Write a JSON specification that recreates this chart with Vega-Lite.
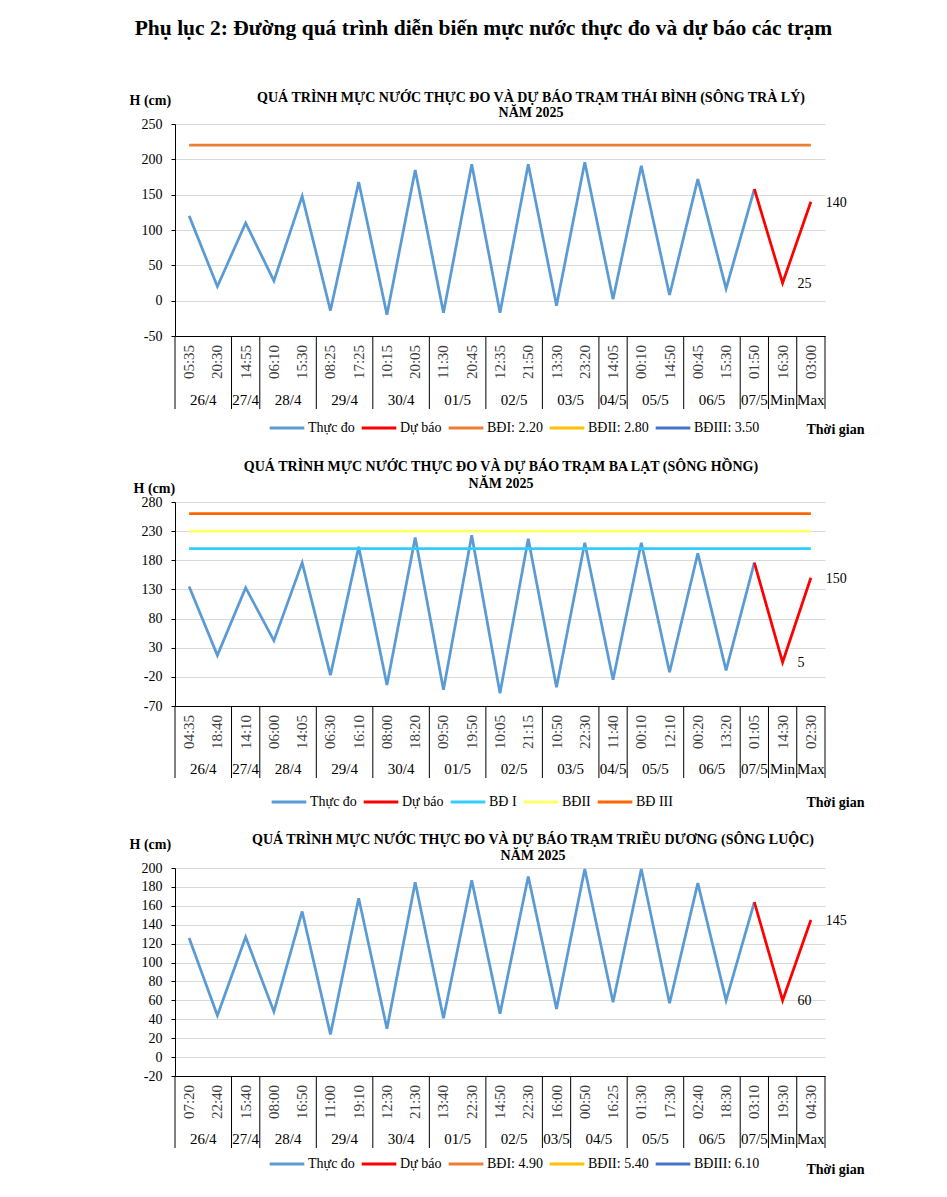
{
  "$schema": "https://vega.github.io/schema/vega-lite/v6.json",
  "background": "white",
  "padding": {"left": 129, "top": 17, "right": 5, "bottom": 5},
  "title": {"text": "Phụ lục 2: Đường quá trình diễn biến mực nước thực đo và dự báo các trạm", "font": "Liberation Serif", "fontSize": 21.5, "fontWeight": "bold", "color": "#000", "anchor": "middle", "offset": 52, "dx": -13},
  "config": {"view": {"stroke": null}, "axis": {"labelOverlap": false}, "axisY": {"labelOverlap": false, "tickCount": 12}},
  "datasets": {
    "tb": [
      {"date": "26/4", "time": "05:35", "obs": 120},
      {"date": "26/4", "time": "20:30", "obs": 20},
      {"date": "27/4", "time": "14:55", "obs": 110},
      {"date": "28/4", "time": "06:10", "obs": 28},
      {"date": "28/4", "time": "15:30", "obs": 148},
      {"date": "29/4", "time": "08:25", "obs": -14},
      {"date": "29/4", "time": "17:25", "obs": 168},
      {"date": "30/4", "time": "10:15", "obs": -20},
      {"date": "30/4", "time": "20:05", "obs": 185},
      {"date": "01/5", "time": "11:30", "obs": -17},
      {"date": "01/5", "time": "20:45", "obs": 193},
      {"date": "02/5", "time": "12:35", "obs": -17},
      {"date": "02/5", "time": "21:50", "obs": 193},
      {"date": "03/5", "time": "13:30", "obs": -7},
      {"date": "03/5", "time": "23:20", "obs": 196},
      {"date": "04/5", "time": "14:05", "obs": 2},
      {"date": "05/5", "time": "00:10", "obs": 191},
      {"date": "05/5", "time": "14:50", "obs": 8},
      {"date": "06/5", "time": "00:45", "obs": 172},
      {"date": "06/5", "time": "15:30", "obs": 17},
      {"date": "07/5", "time": "01:50", "obs": 158, "fc": 158},
      {"date": "Min", "time": "16:30", "fc": 25},
      {"date": "Max", "time": "03:00", "fc": 140}
    ],
    "tb_lv": [{"name": "BĐI: 2.20", "h": 220}],
    "bl": [
      {"date": "26/4", "time": "04:35", "obs": 135},
      {"date": "26/4", "time": "18:40", "obs": 17},
      {"date": "27/4", "time": "14:10", "obs": 133},
      {"date": "28/4", "time": "06:00", "obs": 42},
      {"date": "28/4", "time": "14:05", "obs": 176},
      {"date": "29/4", "time": "06:30", "obs": -17},
      {"date": "29/4", "time": "16:10", "obs": 203},
      {"date": "30/4", "time": "08:00", "obs": -34},
      {"date": "30/4", "time": "18:20", "obs": 219},
      {"date": "01/5", "time": "09:50", "obs": -42},
      {"date": "01/5", "time": "19:50", "obs": 223},
      {"date": "02/5", "time": "10:05", "obs": -48},
      {"date": "02/5", "time": "21:15", "obs": 217},
      {"date": "03/5", "time": "10:50", "obs": -38},
      {"date": "03/5", "time": "22:30", "obs": 210},
      {"date": "04/5", "time": "11:40", "obs": -25},
      {"date": "05/5", "time": "00:10", "obs": 210},
      {"date": "05/5", "time": "12:10", "obs": -12},
      {"date": "06/5", "time": "00:20", "obs": 192},
      {"date": "06/5", "time": "13:20", "obs": -9},
      {"date": "07/5", "time": "01:05", "obs": 176, "fc": 176},
      {"date": "Min", "time": "14:30", "fc": 5},
      {"date": "Max", "time": "02:30", "fc": 150}
    ],
    "bl_lv": [{"name": "BĐ I", "h": 200}, {"name": "BĐII", "h": 230}, {"name": "BĐ III", "h": 260}],
    "td": [
      {"date": "26/4", "time": "07:20", "obs": 126},
      {"date": "26/4", "time": "22:40", "obs": 44},
      {"date": "27/4", "time": "15:40", "obs": 127},
      {"date": "28/4", "time": "08:00", "obs": 48},
      {"date": "28/4", "time": "16:50", "obs": 154},
      {"date": "29/4", "time": "11:00", "obs": 24},
      {"date": "29/4", "time": "19:10", "obs": 168},
      {"date": "30/4", "time": "12:30", "obs": 30},
      {"date": "30/4", "time": "21:30", "obs": 185},
      {"date": "01/5", "time": "13:40", "obs": 41},
      {"date": "01/5", "time": "22:30", "obs": 187},
      {"date": "02/5", "time": "14:50", "obs": 46},
      {"date": "02/5", "time": "22:30", "obs": 191},
      {"date": "03/5", "time": "16:00", "obs": 51},
      {"date": "04/5", "time": "00:50", "obs": 199},
      {"date": "04/5", "time": "16:25", "obs": 58},
      {"date": "05/5", "time": "01:30", "obs": 199},
      {"date": "05/5", "time": "17:30", "obs": 57},
      {"date": "06/5", "time": "02:40", "obs": 184},
      {"date": "06/5", "time": "18:30", "obs": 60},
      {"date": "07/5", "time": "03:10", "obs": 164, "fc": 164},
      {"date": "Min", "time": "19:30", "fc": 60},
      {"date": "Max", "time": "04:30", "fc": 145}
    ]
  },
  "vconcat": [
    {
      "bounds": "flush",
      "spacing": 0,
      "resolve": {"scale": {"x": "independent", "y": "independent", "color": "independent"}, "legend": {"color": "independent"}},
      "vconcat": [
        {
          "width": 650, "height": 212,
          "title": {"text": ["QUÁ TRÌNH MỰC NƯỚC THỰC ĐO VÀ DỰ BÁO TRẠM THÁI BÌNH (SÔNG TRÀ LÝ)", "NĂM 2025"], "frame": "group", "anchor": "middle", "dx": 31, "offset": -27, "font": "Liberation Serif", "fontSize": 14, "fontWeight": "bold", "lineHeight": 15, "color": "#000"},
          "layer": [
            {
              "data": {"name": "tb"},
              "transform": [{"window": [{"op": "row_number", "as": "i"}]}, {"filter": "isValid(datum.obs)"}],
              "mark": {"type": "line", "strokeWidth": 2.75},
              "encoding": {
                "x": {"field": "i", "type": "ordinal", "scale": {"type": "point", "padding": 0.5},
                  "axis": {"labels": false, "ticks": false, "grid": false, "domain": true, "domainColor": "#000", "title": "Thời gian", "titleX": 631, "titleY": 93, "titleAlign": "left", "titleBaseline": "middle", "titleFont": "Liberation Serif", "titleFontSize": 14, "titleFontWeight": "bold", "titleColor": "#000"}},
                "y": {"field": "obs", "type": "quantitative", "scale": {"domain": [-50, 250], "nice": false, "zero": false},
                  "axis": {"values": [-50, 0, 50, 100, 150, 200, 250], "labelExpr": "'' + datum.value", "labelOverlap": false, "title": "H (cm)", "titleAngle": 0, "titleX": -46, "titleY": -24, "titleAlign": "left", "titleBaseline": "middle", "titleFont": "Liberation Serif", "titleFontSize": 14, "titleFontWeight": "bold", "titleColor": "#000", "labelFont": "Liberation Serif", "labelFontSize": 14, "labelColor": "#000", "tickSize": 4, "tickColor": "#000", "domainColor": "#000", "labelPadding": 9, "grid": true, "gridColor": "#D9D9D9"}},
                "color": {"datum": "Thực đo", "type": "nominal", "title": null,
                  "scale": {"domain": ["Thực đo", "Dự báo", "BĐI: 2.20", "BĐII: 2.80", "BĐIII: 3.50"], "range": ["#5B9BD5", "#FF0000", "#ED7D31", "#FFC000", "#4472C4"]},
                  "legend": {"orient": "none", "legendX": 93, "legendY": 285, "direction": "horizontal", "title": null, "symbolType": "stroke", "symbolStrokeWidth": 3, "symbolSize": 1200, "labelFont": "Liberation Serif", "labelFontSize": 14, "labelColor": "#000", "labelOffset": 2, "columnPadding": 0, "padding": 0}}
              }
            },
            {
              "data": {"name": "tb"},
              "transform": [{"window": [{"op": "row_number", "as": "i"}]}, {"filter": "isValid(datum.fc)"}],
              "mark": {"type": "line", "strokeWidth": 2.75},
              "encoding": {
                "x": {"field": "i", "type": "ordinal"},
                "y": {"field": "fc", "type": "quantitative", "axis": {"labelOverlap": false}},
                "color": {"datum": "Dự báo", "type": "nominal", "title": null}
              }
            },
            {
              "data": {"name": "tb_lv"},
              "mark": {"type": "rule", "strokeWidth": 2.75},
              "encoding": {
                "x": {"datum": 1, "type": "ordinal"},
                "x2": {"datum": 23},
                "y": {"field": "h", "type": "quantitative", "axis": {"labelOverlap": false}},
                "color": {"field": "name", "type": "nominal", "title": null}
              }
            },
            {
              "data": {"name": "tb"},
              "transform": [{"window": [{"op": "row_number", "as": "i"}]}, {"filter": "!isValid(datum.obs)"}],
              "mark": {"type": "text", "align": "left", "baseline": "middle", "dx": 15, "dy": 1, "font": "Liberation Serif", "fontSize": 14, "color": "#000"},
              "encoding": {
                "x": {"field": "i", "type": "ordinal"},
                "y": {"field": "fc", "type": "quantitative", "axis": {"labelOverlap": false}},
                "text": {"field": "fc", "type": "quantitative"}
              }
            }
          ]
        },
        {
          "width": 650, "height": 52,
          "data": {"name": "tb"},
          "transform": [
            {"window": [{"op": "row_number", "as": "i"}]},
            {"window": [{"op": "row_number", "as": "k"}, {"op": "count", "as": "n"}], "groupby": ["date"], "frame": [null, null]},
            {"joinaggregate": [{"op": "max", "field": "i", "as": "last"}]}
          ],
          "layer": [
            {"mark": {"type": "text", "angle": 270, "align": "center", "baseline": "middle", "font": "Liberation Serif", "fontSize": 15, "color": "#404040"},
             "encoding": {"x": {"field": "i", "type": "ordinal", "scale": {"type": "band", "paddingInner": 0, "paddingOuter": 0}, "axis": null}, "text": {"field": "time"}}},
            {"transform": [{"filter": "datum.k == 1"}], "mark": {"type": "rule", "color": "#000", "strokeWidth": 1},
             "encoding": {"x": {"field": "i", "type": "ordinal", "bandPosition": 0}}},
            {"transform": [{"filter": "datum.i == datum.last"}], "mark": {"type": "rule", "color": "#000", "strokeWidth": 1},
             "encoding": {"x": {"field": "i", "type": "ordinal", "bandPosition": 1}}}
          ]
        },
        {
          "width": 650, "height": 21,
          "data": {"name": "tb"},
          "transform": [
            {"window": [{"op": "row_number", "as": "i"}]},
            {"window": [{"op": "row_number", "as": "k"}, {"op": "count", "as": "n"}], "groupby": ["date"], "frame": [null, null]},
            {"joinaggregate": [{"op": "max", "field": "i", "as": "last"}]}
          ],
          "layer": [
            {"transform": [{"filter": "datum.n == 1"}], "mark": {"type": "text", "baseline": "middle", "dy": 1, "font": "Liberation Serif", "fontSize": 15, "color": "#000"},
             "encoding": {"x": {"field": "i", "type": "ordinal", "scale": {"type": "band", "paddingInner": 0, "paddingOuter": 0}, "axis": null}, "text": {"field": "date"}}},
            {"transform": [{"filter": "datum.n == 2 && datum.k == 2"}], "mark": {"type": "text", "baseline": "middle", "dy": 1, "font": "Liberation Serif", "fontSize": 15, "color": "#000"},
             "encoding": {"x": {"field": "i", "type": "ordinal", "bandPosition": 0}, "text": {"field": "date"}}},
            {"transform": [{"filter": "datum.k == 1"}], "mark": {"type": "rule", "color": "#000", "strokeWidth": 1},
             "encoding": {"x": {"field": "i", "type": "ordinal", "bandPosition": 0}}},
            {"transform": [{"filter": "datum.i == datum.last"}], "mark": {"type": "rule", "color": "#000", "strokeWidth": 1},
             "encoding": {"x": {"field": "i", "type": "ordinal", "bandPosition": 1}}}
          ]
        }
      ]
    },
    {
      "bounds": "flush",
      "spacing": 0,
      "resolve": {"scale": {"x": "independent", "y": "independent", "color": "independent"}, "legend": {"color": "independent"}},
      "vconcat": [
        {
          "width": 650, "height": 204,
          "title": {"text": ["QUÁ TRÌNH MỰC NƯỚC THỰC ĐO VÀ DỰ BÁO TRẠM BA LẠT (SÔNG HỒNG)", "NĂM 2025"], "frame": "group", "anchor": "middle", "dx": 1, "offset": -10, "font": "Liberation Serif", "fontSize": 14, "fontWeight": "bold", "lineHeight": 17, "color": "#000"},
          "layer": [
            {
              "data": {"name": "bl"},
              "transform": [{"window": [{"op": "row_number", "as": "i"}]}, {"filter": "isValid(datum.obs)"}],
              "mark": {"type": "line", "strokeWidth": 2.75},
              "encoding": {
                "x": {"field": "i", "type": "ordinal", "scale": {"type": "point", "padding": 0.5},
                  "axis": {"labels": false, "ticks": false, "grid": false, "domain": true, "domainColor": "#000", "title": "Thời gian", "titleX": 631, "titleY": 96, "titleAlign": "left", "titleBaseline": "middle", "titleFont": "Liberation Serif", "titleFontSize": 14, "titleFontWeight": "bold", "titleColor": "#000"}},
                "y": {"field": "obs", "type": "quantitative", "scale": {"domain": [-70, 280], "nice": false, "zero": false},
                  "axis": {"values": [-70, -20, 30, 80, 130, 180, 230, 280], "labelExpr": "'' + datum.value", "labelOverlap": false, "title": "H (cm)", "titleAngle": 0, "titleX": -42, "titleY": -14, "titleAlign": "left", "titleBaseline": "middle", "titleFont": "Liberation Serif", "titleFontSize": 14, "titleFontWeight": "bold", "titleColor": "#000", "labelFont": "Liberation Serif", "labelFontSize": 14, "labelColor": "#000", "tickSize": 4, "tickColor": "#000", "domainColor": "#000", "labelPadding": 9, "grid": true, "gridColor": "#D9D9D9"}},
                "color": {"datum": "Thực đo", "type": "nominal", "title": null,
                  "scale": {"domain": ["Thực đo", "Dự báo", "BĐ I", "BĐII", "BĐ III"], "range": ["#5B9BD5", "#FF0000", "#33CCFF", "#FFFF66", "#FF6600"]},
                  "legend": {"orient": "none", "legendX": 95, "legendY": 281, "direction": "horizontal", "title": null, "symbolType": "stroke", "symbolStrokeWidth": 3, "symbolSize": 1200, "labelFont": "Liberation Serif", "labelFontSize": 14, "labelColor": "#000", "labelOffset": 2, "columnPadding": 0, "padding": 0}}
              }
            },
            {
              "data": {"name": "bl"},
              "transform": [{"window": [{"op": "row_number", "as": "i"}]}, {"filter": "isValid(datum.fc)"}],
              "mark": {"type": "line", "strokeWidth": 2.75},
              "encoding": {
                "x": {"field": "i", "type": "ordinal"},
                "y": {"field": "fc", "type": "quantitative", "axis": {"labelOverlap": false}},
                "color": {"datum": "Dự báo", "type": "nominal", "title": null}
              }
            },
            {
              "data": {"name": "bl_lv"},
              "mark": {"type": "rule", "strokeWidth": 2.75},
              "encoding": {
                "x": {"datum": 1, "type": "ordinal"},
                "x2": {"datum": 23},
                "y": {"field": "h", "type": "quantitative", "axis": {"labelOverlap": false}},
                "color": {"field": "name", "type": "nominal", "title": null}
              }
            },
            {
              "data": {"name": "bl"},
              "transform": [{"window": [{"op": "row_number", "as": "i"}]}, {"filter": "!isValid(datum.obs)"}],
              "mark": {"type": "text", "align": "left", "baseline": "middle", "dx": 15, "dy": 1, "font": "Liberation Serif", "fontSize": 14, "color": "#000"},
              "encoding": {
                "x": {"field": "i", "type": "ordinal"},
                "y": {"field": "fc", "type": "quantitative", "axis": {"labelOverlap": false}},
                "text": {"field": "fc", "type": "quantitative"}
              }
            }
          ]
        },
        {
          "width": 650, "height": 52,
          "data": {"name": "bl"},
          "transform": [
            {"window": [{"op": "row_number", "as": "i"}]},
            {"window": [{"op": "row_number", "as": "k"}, {"op": "count", "as": "n"}], "groupby": ["date"], "frame": [null, null]},
            {"joinaggregate": [{"op": "max", "field": "i", "as": "last"}]}
          ],
          "layer": [
            {"mark": {"type": "text", "angle": 270, "align": "center", "baseline": "middle", "font": "Liberation Serif", "fontSize": 15, "color": "#404040"},
             "encoding": {"x": {"field": "i", "type": "ordinal", "scale": {"type": "band", "paddingInner": 0, "paddingOuter": 0}, "axis": null}, "text": {"field": "time"}}},
            {"transform": [{"filter": "datum.k == 1"}], "mark": {"type": "rule", "color": "#000", "strokeWidth": 1},
             "encoding": {"x": {"field": "i", "type": "ordinal", "bandPosition": 0}}},
            {"transform": [{"filter": "datum.i == datum.last"}], "mark": {"type": "rule", "color": "#000", "strokeWidth": 1},
             "encoding": {"x": {"field": "i", "type": "ordinal", "bandPosition": 1}}}
          ]
        },
        {
          "width": 650, "height": 20,
          "data": {"name": "bl"},
          "transform": [
            {"window": [{"op": "row_number", "as": "i"}]},
            {"window": [{"op": "row_number", "as": "k"}, {"op": "count", "as": "n"}], "groupby": ["date"], "frame": [null, null]},
            {"joinaggregate": [{"op": "max", "field": "i", "as": "last"}]}
          ],
          "layer": [
            {"transform": [{"filter": "datum.n == 1"}], "mark": {"type": "text", "baseline": "middle", "dy": 1, "font": "Liberation Serif", "fontSize": 15, "color": "#000"},
             "encoding": {"x": {"field": "i", "type": "ordinal", "scale": {"type": "band", "paddingInner": 0, "paddingOuter": 0}, "axis": null}, "text": {"field": "date"}}},
            {"transform": [{"filter": "datum.n == 2 && datum.k == 2"}], "mark": {"type": "text", "baseline": "middle", "dy": 1, "font": "Liberation Serif", "fontSize": 15, "color": "#000"},
             "encoding": {"x": {"field": "i", "type": "ordinal", "bandPosition": 0}, "text": {"field": "date"}}},
            {"transform": [{"filter": "datum.k == 1"}], "mark": {"type": "rule", "color": "#000", "strokeWidth": 1},
             "encoding": {"x": {"field": "i", "type": "ordinal", "bandPosition": 0}}},
            {"transform": [{"filter": "datum.i == datum.last"}], "mark": {"type": "rule", "color": "#000", "strokeWidth": 1},
             "encoding": {"x": {"field": "i", "type": "ordinal", "bandPosition": 1}}}
          ]
        }
      ]
    },
    {
      "bounds": "flush",
      "spacing": 0,
      "resolve": {"scale": {"x": "independent", "y": "independent", "color": "independent"}, "legend": {"color": "independent"}},
      "vconcat": [
        {
          "width": 650, "height": 208,
          "title": {"text": ["QUÁ TRÌNH MỰC NƯỚC THỰC ĐO VÀ DỰ BÁO TRẠM TRIỀU DƯƠNG  (SÔNG LUỘC)", "NĂM 2025"], "frame": "group", "anchor": "middle", "dx": 33, "offset": -26, "font": "Liberation Serif", "fontSize": 14, "fontWeight": "bold", "lineHeight": 16, "color": "#000"},
          "layer": [
            {
              "data": {"name": "td"},
              "transform": [{"window": [{"op": "row_number", "as": "i"}]}, {"filter": "isValid(datum.obs)"}],
              "mark": {"type": "line", "strokeWidth": 2.75},
              "encoding": {
                "x": {"field": "i", "type": "ordinal", "scale": {"type": "point", "padding": 0.5},
                  "axis": {"labels": false, "ticks": false, "grid": false, "domain": true, "domainColor": "#000", "title": "Thời gian", "titleX": 631, "titleY": 93, "titleAlign": "left", "titleBaseline": "middle", "titleFont": "Liberation Serif", "titleFontSize": 14, "titleFontWeight": "bold", "titleColor": "#000"}},
                "y": {"field": "obs", "type": "quantitative", "scale": {"domain": [-20, 200], "nice": false, "zero": false},
                  "axis": {"values": [-20, 0, 20, 40, 60, 80, 100, 120, 140, 160, 180, 200], "labelExpr": "'' + datum.value", "labelOverlap": false, "title": "H (cm)", "titleAngle": 0, "titleX": -46, "titleY": -24, "titleAlign": "left", "titleBaseline": "middle", "titleFont": "Liberation Serif", "titleFontSize": 14, "titleFontWeight": "bold", "titleColor": "#000", "labelFont": "Liberation Serif", "labelFontSize": 14, "labelColor": "#000", "tickSize": 4, "tickColor": "#000", "domainColor": "#000", "labelPadding": 9, "grid": true, "gridColor": "#D9D9D9"}},
                "color": {"datum": "Thực đo", "type": "nominal", "title": null,
                  "scale": {"domain": ["Thực đo", "Dự báo", "BĐI: 4.90", "BĐII: 5.40", "BĐIII: 6.10"], "range": ["#5B9BD5", "#FF0000", "#ED7D31", "#FFC000", "#4472C4"]},
                  "legend": {"orient": "none", "legendX": 93, "legendY": 277, "direction": "horizontal", "title": null, "symbolType": "stroke", "symbolStrokeWidth": 3, "symbolSize": 1200, "labelFont": "Liberation Serif", "labelFontSize": 14, "labelColor": "#000", "labelOffset": 2, "columnPadding": 0, "padding": 0}}
              }
            },
            {
              "data": {"name": "td"},
              "transform": [{"window": [{"op": "row_number", "as": "i"}]}, {"filter": "isValid(datum.fc)"}],
              "mark": {"type": "line", "strokeWidth": 2.75},
              "encoding": {
                "x": {"field": "i", "type": "ordinal"},
                "y": {"field": "fc", "type": "quantitative", "axis": {"labelOverlap": false}},
                "color": {"datum": "Dự báo", "type": "nominal", "title": null}
              }
            },
            {
              "data": {"name": "td"},
              "transform": [{"window": [{"op": "row_number", "as": "i"}]}, {"filter": "!isValid(datum.obs)"}],
              "mark": {"type": "text", "align": "left", "baseline": "middle", "dx": 15, "dy": 1, "font": "Liberation Serif", "fontSize": 14, "color": "#000"},
              "encoding": {
                "x": {"field": "i", "type": "ordinal"},
                "y": {"field": "fc", "type": "quantitative", "axis": {"labelOverlap": false}},
                "text": {"field": "fc", "type": "quantitative"}
              }
            }
          ]
        },
        {
          "width": 650, "height": 52,
          "data": {"name": "td"},
          "transform": [
            {"window": [{"op": "row_number", "as": "i"}]},
            {"window": [{"op": "row_number", "as": "k"}, {"op": "count", "as": "n"}], "groupby": ["date"], "frame": [null, null]},
            {"joinaggregate": [{"op": "max", "field": "i", "as": "last"}]}
          ],
          "layer": [
            {"mark": {"type": "text", "angle": 270, "align": "center", "baseline": "middle", "font": "Liberation Serif", "fontSize": 15, "color": "#404040"},
             "encoding": {"x": {"field": "i", "type": "ordinal", "scale": {"type": "band", "paddingInner": 0, "paddingOuter": 0}, "axis": null}, "text": {"field": "time"}}},
            {"transform": [{"filter": "datum.k == 1"}], "mark": {"type": "rule", "color": "#000", "strokeWidth": 1},
             "encoding": {"x": {"field": "i", "type": "ordinal", "bandPosition": 0}}},
            {"transform": [{"filter": "datum.i == datum.last"}], "mark": {"type": "rule", "color": "#000", "strokeWidth": 1},
             "encoding": {"x": {"field": "i", "type": "ordinal", "bandPosition": 1}}}
          ]
        },
        {
          "width": 650, "height": 20,
          "data": {"name": "td"},
          "transform": [
            {"window": [{"op": "row_number", "as": "i"}]},
            {"window": [{"op": "row_number", "as": "k"}, {"op": "count", "as": "n"}], "groupby": ["date"], "frame": [null, null]},
            {"joinaggregate": [{"op": "max", "field": "i", "as": "last"}]}
          ],
          "layer": [
            {"transform": [{"filter": "datum.n == 1"}], "mark": {"type": "text", "baseline": "middle", "dy": 1, "font": "Liberation Serif", "fontSize": 15, "color": "#000"},
             "encoding": {"x": {"field": "i", "type": "ordinal", "scale": {"type": "band", "paddingInner": 0, "paddingOuter": 0}, "axis": null}, "text": {"field": "date"}}},
            {"transform": [{"filter": "datum.n == 2 && datum.k == 2"}], "mark": {"type": "text", "baseline": "middle", "dy": 1, "font": "Liberation Serif", "fontSize": 15, "color": "#000"},
             "encoding": {"x": {"field": "i", "type": "ordinal", "bandPosition": 0}, "text": {"field": "date"}}},
            {"transform": [{"filter": "datum.k == 1"}], "mark": {"type": "rule", "color": "#000", "strokeWidth": 1},
             "encoding": {"x": {"field": "i", "type": "ordinal", "bandPosition": 0}}},
            {"transform": [{"filter": "datum.i == datum.last"}], "mark": {"type": "rule", "color": "#000", "strokeWidth": 1},
             "encoding": {"x": {"field": "i", "type": "ordinal", "bandPosition": 1}}}
          ]
        }
      ]
    }
  ],
  "spacing": 24,
  "resolve": {"scale": {"x": "independent", "y": "independent", "color": "independent"}, "legend": {"color": "independent"}}
}
